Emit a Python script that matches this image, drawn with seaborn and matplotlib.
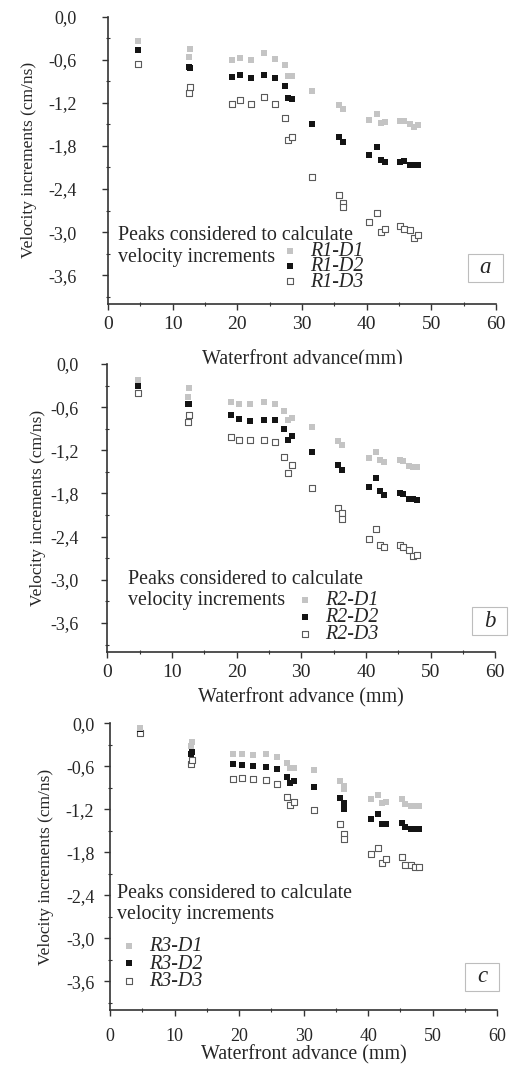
"""Velocity increments against waterfront advance for three runs (R1-R3)."""
import matplotlib
matplotlib.use("Agg")
import pandas as pd
import matplotlib.pyplot as plt
import seaborn as sns
from matplotlib.patches import Rectangle
from matplotlib.ticker import MultipleLocator, FuncFormatter

GREY = "#c4c4c4"
BLACK = "#141414"
OPEN_EDGE = "#5a5a5a"

# waterfront advance (mm), shared by the three panels
advance = [4.7, 12.5, 12.7, 19.1, 20.4, 22.1, 24.2, 25.9, 27.4, 27.9, 28.5, 31.6,
           35.7, 36.3, 36.3, 40.4, 41.6, 42.2, 42.8, 45.2, 45.7, 46.7, 47.3, 47.9]

r1_d1 = [-0.34, -0.56, -0.45, -0.60, -0.58, -0.60, -0.51, -0.59, -0.67, -0.82, -0.82, -1.04,
         -1.23, -1.29, -1.29, -1.44, -1.36, -1.48, -1.47, -1.45, -1.46, -1.50, -1.53, -1.51]
r1_d2 = [-0.47, -0.70, -0.72, -0.84, -0.81, -0.86, -0.81, -0.85, -0.96, -1.14, -1.15, -1.50,
         -1.68, -1.75, -1.75, -1.93, -1.82, -1.99, -2.02, -2.02, -2.01, -2.06, -2.06, -2.06]
r1_d3 = [-0.66, -1.07, -0.98, -1.22, -1.16, -1.21, -1.12, -1.22, -1.41, -1.72, -1.68, -2.23,
         -2.48, -2.59, -2.65, -2.86, -2.74, -3.00, -2.95, -2.92, -2.95, -2.97, -3.08, -3.04]

r2_d1 = [-0.22, -0.46, -0.34, -0.53, -0.56, -0.56, -0.53, -0.56, -0.66, -0.78, -0.75, -0.87,
         -1.07, -1.12, -1.12, -1.31, -1.22, -1.34, -1.36, -1.33, -1.35, -1.42, -1.43, -1.43]
r2_d2 = [-0.30, -0.55, -0.55, -0.71, -0.77, -0.79, -0.78, -0.78, -0.91, -1.05, -1.00, -1.22,
         -1.40, -1.47, -1.47, -1.71, -1.59, -1.76, -1.82, -1.80, -1.81, -1.87, -1.88, -1.89]
r2_d3 = [-0.40, -0.81, -0.71, -1.01, -1.06, -1.06, -1.06, -1.09, -1.29, -1.52, -1.41, -1.72,
         -2.00, -2.07, -2.15, -2.43, -2.30, -2.51, -2.55, -2.51, -2.54, -2.58, -2.67, -2.65]

r3_d1 = [-0.07, -0.31, -0.26, -0.43, -0.43, -0.44, -0.43, -0.47, -0.55, -0.62, -0.62, -0.65,
         -0.80, -0.87, -0.92, -1.05, -1.00, -1.11, -1.09, -1.05, -1.13, -1.15, -1.15, -1.15]
r3_d2 = [-0.08, -0.42, -0.40, -0.57, -0.58, -0.60, -0.61, -0.63, -0.75, -0.83, -0.80, -0.89,
         -1.04, -1.11, -1.19, -1.33, -1.26, -1.41, -1.40, -1.39, -1.45, -1.48, -1.47, -1.47]
r3_d3 = [-0.14, -0.56, -0.51, -0.77, -0.76, -0.78, -0.79, -0.84, -1.03, -1.14, -1.10, -1.21,
         -1.41, -1.54, -1.61, -1.82, -1.74, -1.95, -1.89, -1.86, -1.97, -1.97, -2.00, -2.00]

PANELS = [
    dict(run="R1", letter="a", series=(r1_d1, r1_d2, r1_d3),
         rect=(0.2089, 0.7162, 0.7505, 0.2683), xlabel="Waterfront advance(mm)",
         xtick_size=14, xtick_pad=4.5, ytick_pad=18, ylabel_x=-0.183, xlabel_y=-0.16,
         note_xy=(0.026, 0.200), leg_xy=(0.448, 0.129), leg_space=-0.19,
         box=(0.928, 0.077, 0.090, 0.097)),
    dict(run="R2", letter="b", series=(r2_d1, r2_d2, r2_d3),
         rect=(0.2075, 0.3915, 0.7505, 0.2686), xlabel="Waterfront advance (mm)",
         xtick_size=14, xtick_pad=4.5, ytick_pad=16.5, ylabel_x=-0.158, xlabel_y=-0.126,
         note_xy=(0.053, 0.215), leg_xy=(0.489, 0.118), leg_space=-0.11,
         box=(0.940, 0.058, 0.090, 0.097)),
    dict(run="R3", letter="c", series=(r3_d1, r3_d2, r3_d3),
         rect=(0.2128, 0.0570, 0.7490, 0.2675), xlabel="Waterfront advance (mm)",
         xtick_size=13, xtick_pad=9, ytick_pad=7, ylabel_x=-0.145, xlabel_y=-0.122,
         note_xy=(0.018, 0.370), leg_xy=(0.028, 0.160), leg_space=-0.09,
         box=(0.917, 0.067, 0.088, 0.098)),
]


def comma_fmt(value, pos):
    text = "{:.1f}".format(value).replace(".", ",")
    return "0,0" if text == "-0,0" else text


def draw_panel(fig, cfg):
    ax = fig.add_axes(cfg["rect"])
    data = pd.DataFrame({"advance": advance})
    styles = [
        dict(color=GREY, edgecolor=GREY, linewidth=0),
        dict(color=BLACK, edgecolor=BLACK, linewidth=0),
        dict(color="white", edgecolor=OPEN_EDGE, linewidth=0.8),
    ]
    for i, (values, style) in enumerate(zip(cfg["series"], styles)):
        label = "{}-D{}".format(cfg["run"], i + 1)
        data[label] = values
        sns.scatterplot(data=data, x="advance", y=label, marker="s", s=20,
                        label=label, ax=ax, zorder=3 - i, **style)

    ax.set_xlim(0, 60)
    ax.set_ylim(-4.0, 0.0)
    ax.xaxis.set_major_locator(MultipleLocator(10))
    ax.xaxis.set_minor_locator(MultipleLocator(5))
    ax.yaxis.set_major_locator(MultipleLocator(0.6))
    ax.yaxis.set_minor_locator(MultipleLocator(0.3))
    ax.yaxis.set_major_formatter(FuncFormatter(comma_fmt))
    ax.tick_params(which="major", direction="out", length=4.3, width=1.0, color="#333333")
    ax.tick_params(which="minor", direction="inout", length=3.5, width=0.8, color="#333333")
    ax.tick_params(axis="x", which="major", labelsize=cfg["xtick_size"], pad=cfg["xtick_pad"])
    ax.tick_params(axis="y", which="major", labelsize=13, pad=cfg["ytick_pad"])
    for side in ("left", "bottom"):
        ax.spines[side].set_linewidth(1.2)
        ax.spines[side].set_color("#333333")
    sns.despine(ax=ax)

    ax.set_xlabel(cfg["xlabel"], fontsize=14.4)
    ax.set_ylabel("Velocity increments (cm/ns)", fontsize=12.5)
    ax.xaxis.set_label_coords(0.5, cfg["xlabel_y"])
    ax.yaxis.set_label_coords(cfg["ylabel_x"], 0.5)

    ax.text(*cfg["note_xy"], "Peaks considered to calculate\nvelocity increments",
            transform=ax.transAxes, ha="left", va="center", fontsize=14.4,
            linespacing=1.15)

    handles, labels = ax.get_legend_handles_labels()
    ax.legend(handles, labels, loc="center left", bbox_to_anchor=cfg["leg_xy"],
              frameon=False, borderpad=0, borderaxespad=0, handlelength=0.8,
              handletextpad=0.6, labelspacing=cfg["leg_space"], markerscale=1.0,
              prop={"family": "Liberation Serif", "style": "italic", "size": 14.4})

    bx, by, bw, bh = cfg["box"]
    ax.add_patch(Rectangle((bx, by), bw, bh, transform=ax.transAxes, facecolor="white",
                           edgecolor="#bdbdbd", linewidth=0.8, clip_on=False, zorder=5))
    ax.text(bx + bw / 2, by + bh / 2, cfg["letter"], transform=ax.transAxes,
            ha="center", va="center", fontsize=16.5, style="italic", zorder=6)
    return ax


def main():
    sns.set_style("ticks")
    plt.rcParams["font.family"] = ["Liberation Serif", "DejaVu Serif"]
    fig = plt.figure(figsize=(5.17, 10.71), dpi=100)
    for cfg in PANELS:
        draw_panel(fig, cfg)
    fig.savefig("out.png", dpi=100)


if __name__ == "__main__":
    main()
